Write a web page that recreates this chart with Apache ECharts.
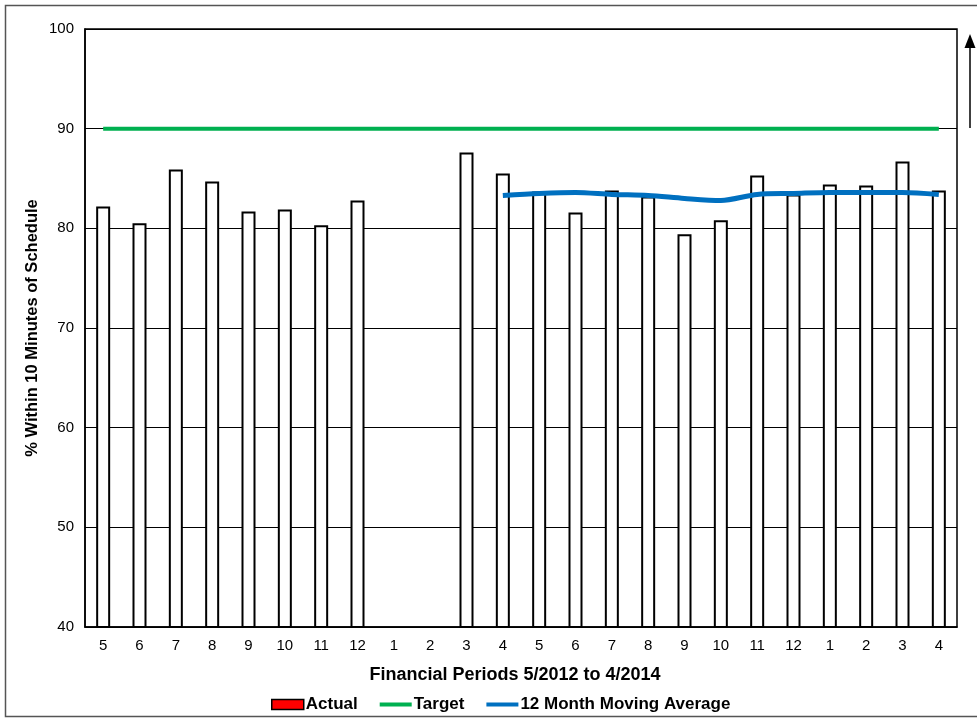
<!DOCTYPE html>
<html>
<head>
<meta charset="utf-8">
<script src="https://cdn.jsdelivr.net/npm/echarts@6/dist/echarts.min.js"></script>
<style>
  html, body { margin: 0; padding: 0; background: #fff; }
  #chart { width: 977px; height: 723px; }
</style>
</head>
<body>
<div id="chart"></div>
<script>
// Financial periods 5/2012 .. 4/2014
const periods = ['5','6','7','8','9','10','11','12','1','2','3','4',
                 '5','6','7','8','9','10','11','12','1','2','3','4'];

// Monthly on-time percentage (no data for periods 1 and 2 of 2013)
const actual = [82.2, 80.5, 85.9, 84.7, 81.7, 81.9, 80.3, 82.8, null, null, 87.6, 85.5,
                83.7, 81.6, 83.8, 83.2, 79.4, 80.8, 85.3, 83.4, 84.4, 84.3, 86.7, 83.8];

// Service target
const target = [90, 90, 90, 90, 90, 90, 90, 90, 90, 90, 90, 90,
                90, 90, 90, 90, 90, 90, 90, 90, 90, 90, 90, 90];

// 12 month moving average, available from period 4/2013
const movingAvg = [null, null, null, null, null, null, null, null, null, null, null, 83.3,
                   83.5, 83.6, 83.4, 83.3, 83.0, 82.8, 83.4, 83.5, 83.6, 83.6, 83.6, 83.4];

const yTicks = { min: 40, max: 100, step: 10 };

const font = '"Liberation Sans", Arial, sans-serif';
const lineIcon = 'path://M0,0h34v4h-34z';
const chart = echarts.init(document.getElementById('chart'), null, { renderer: 'canvas' });

chart.setOption({
  animation: false,
  backgroundColor: '#fff',
  textStyle: { fontFamily: font },
  grid: {
    left: 85, right: 20, top: 29, bottom: 96,
    show: true, borderColor: '#000', borderWidth: 1.5, backgroundColor: 'transparent'
  },
  legend: {
    top: 691,
    left: 266,
    itemGap: 22,
    itemWidth: 32,
    itemHeight: 10,
    textStyle: { fontFamily: font, fontSize: 17, fontWeight: 'bold', color: '#000', padding: [0, 0, 0, -3] },
    data: [
      { name: 'Actual', icon: 'rect', itemStyle: { color: '#ff0000', borderColor: '#000', borderWidth: 1.5 } },
      { name: 'Target', icon: lineIcon },
      { name: '12 Month Moving Average', icon: lineIcon }
    ]
  },
  xAxis: {
    type: 'category',
    data: periods,
    name: 'Financial Periods 5/2012 to 4/2014',
    nameLocation: 'middle',
    nameGap: 39,
    nameTextStyle: { fontFamily: font, fontSize: 18, fontWeight: 'bold', color: '#000', padding: [0, 12, 0, 0] },
    axisLine: { lineStyle: { color: '#000', width: 1.5 } },
    axisTick: { show: false },
    axisLabel: { color: '#000', fontFamily: font, fontSize: 15, margin: 11, interval: 0 }
  },
  yAxis: {
    type: 'value',
    min: yTicks.min, max: yTicks.max, interval: yTicks.step,
    name: '% Within 10 Minutes of Schedule',
    nameLocation: 'middle',
    nameGap: 44,
    nameMoveOverlap: false,
    nameTextStyle: { fontFamily: font, fontSize: 16.5, fontWeight: 'bold', color: '#000' },
    axisLine: { show: true, lineStyle: { color: '#000', width: 1.5 } },
    axisTick: { show: false },
    axisLabel: { color: '#000', fontFamily: font, fontSize: 15, margin: 11 },
    splitLine: { lineStyle: { color: '#000', width: 1 } }
  },
  series: [
    {
      name: 'Actual',
      type: 'bar',
      data: actual,
      barWidth: 14,
      itemStyle: { color: '#fff', borderColor: '#000', borderWidth: 2 },
      z: 2
    },
    {
      name: 'Target',
      type: 'line',
      data: target,
      symbol: 'none',
      lineStyle: { color: '#00b050', width: 4 },
      itemStyle: { color: '#00b050' },
      z: 3
    },
    {
      name: '12 Month Moving Average',
      type: 'line',
      data: movingAvg,
      symbol: 'none',
      smooth: 0.3,
      lineStyle: { color: '#0070c0', width: 5 },
      itemStyle: { color: '#0070c0' },
      z: 4
    }
  ],
  graphic: [
    // outer frame
    { type: 'rect', shape: { x: 5.5, y: 5.5, width: 1000, height: 711 },
      style: { fill: 'none', stroke: '#555', lineWidth: 1.5 }, silent: true },
    // upward "higher is better" arrow
    { type: 'line', shape: { x1: 970, y1: 46, x2: 970, y2: 128 },
      style: { stroke: '#000', lineWidth: 1.5 }, silent: true },
    { type: 'polygon', shape: { points: [[970, 34], [964.5, 48], [975.5, 48]] },
      style: { fill: '#000' }, silent: true }
  ]
});
</script>
</body>
</html>
